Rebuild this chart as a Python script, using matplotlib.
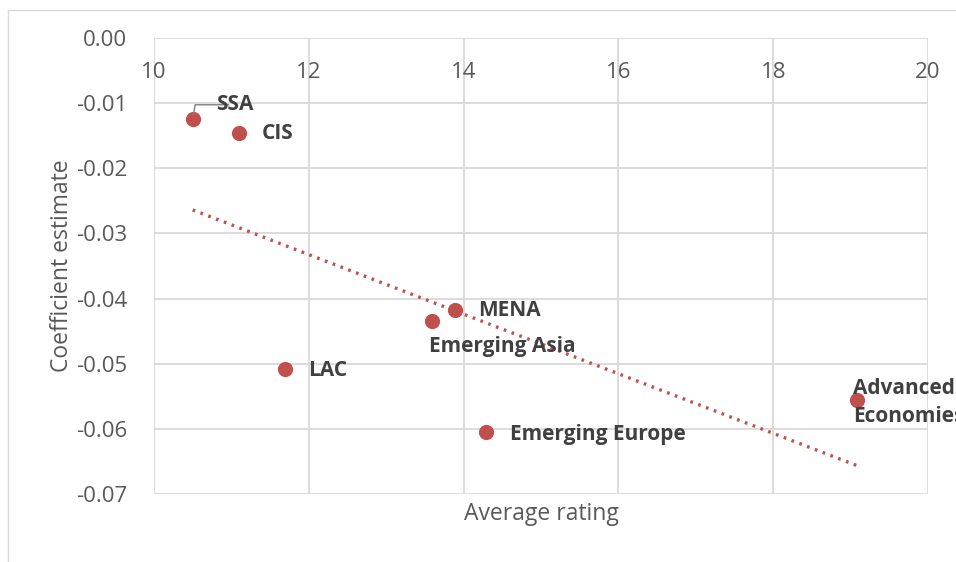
import matplotlib
matplotlib.use("Agg")
import matplotlib.pyplot as plt
import numpy as np
from matplotlib.lines import Line2D

regions = ["SSA", "CIS", "LAC", "Emerging Asia", "MENA", "Emerging Europe", "Advanced\nEconomies"]
avg_rating = [10.50, 11.10, 11.69, 13.59, 13.89, 14.29, 19.08]
coef = [-0.0124, -0.0146, -0.0508, -0.0434, -0.0418, -0.0605, -0.0556]

x_ticks = [10, 12, 14, 16, 18, 20]
y_ticks = [0.00, -0.01, -0.02, -0.03, -0.04, -0.05, -0.06, -0.07]
y_tick_labels = ["0.00", "-0.01", "-0.02", "-0.03", "-0.04", "-0.05", "-0.06", "-0.07"]

# label offsets in pixels (dx, dy)
label_offsets = [(23, 14), (23, 0), (23, -2), (-3, -26), (23, 0), (24, -2), (-4, -2)]

red = "#c0504d"
grid_c = "#d9d9d9"
txt_c = "#595959"
lab_c = "#404040"
font = "Open Sans"

fig = plt.figure(figsize=(9.56, 5.62), dpi=100)
ax = fig.add_axes([154/956, 1-494/562, (928-154)/956, (494-38)/562])

ax.set_xlim(10, 20)
ax.set_ylim(-0.07, 0.0)
ax.set_xticks(x_ticks)
ax.set_xticklabels([str(t) for t in x_ticks], fontfamily=font, fontsize=16, color=txt_c)
ax.set_yticks(y_ticks)
ax.set_yticklabels(y_tick_labels, fontfamily=font, fontsize=16, color=txt_c)
ax.tick_params(axis='x', bottom=False, top=False, labelbottom=False, labeltop=True, pad=-36)
ax.tick_params(axis='y', left=False, right=False, pad=16)
ax.grid(True, color=grid_c, linewidth=1.3)
ax.set_axisbelow(True)
for s in ax.spines.values():
    s.set_visible(False)

ax.scatter(avg_rating, coef, s=120, color=red, zorder=3, linewidths=0)

# linear trendline
xs = np.array(avg_rating)
ys = np.array(coef)
m, b = np.polyfit(xs, ys, 1)
xl = np.array([xs.min(), xs.max()])
ax.plot(xl, m*xl + b, linestyle=(0, (0.8, 1.7)), color=red, linewidth=2.4, zorder=2)

for i, (name, x, y) in enumerate(zip(regions, avg_rating, coef)):
    dx, dy = label_offsets[i]
    kw = dict(textcoords='offset pixels', ha='left', va='center', fontfamily=font,
              fontweight='bold', fontsize=15, color=lab_c, annotation_clip=False,
              linespacing=1.45, zorder=4)
    if name == "SSA":
        ax.annotate(name, xy=(x, y), xytext=(dx, dy),
                    arrowprops=dict(arrowstyle='-', color='#7f7f7f', lw=1,
                                    connectionstyle='angle,angleA=0,angleB=80,rad=0',
                                    shrinkA=4, shrinkB=3, patchA=None), **kw)
    else:
        ax.annotate(name, xy=(x, y), xytext=(dx, dy), **kw)

ax.set_xlabel("Average rating", fontfamily=font, fontsize=16.5, color=txt_c, labelpad=6)
ax.set_ylabel("Coefficient estimate", fontfamily=font, fontsize=16.5, color=txt_c, labelpad=1.5)

# chart area border
fig.add_artist(Line2D([8/956, 1], [1-10/562, 1-10/562], transform=fig.transFigure, color=grid_c, lw=1))
fig.add_artist(Line2D([8/956, 8/956], [0, 1-10/562], transform=fig.transFigure, color=grid_c, lw=1))

fig.savefig("out.png", dpi=100)
